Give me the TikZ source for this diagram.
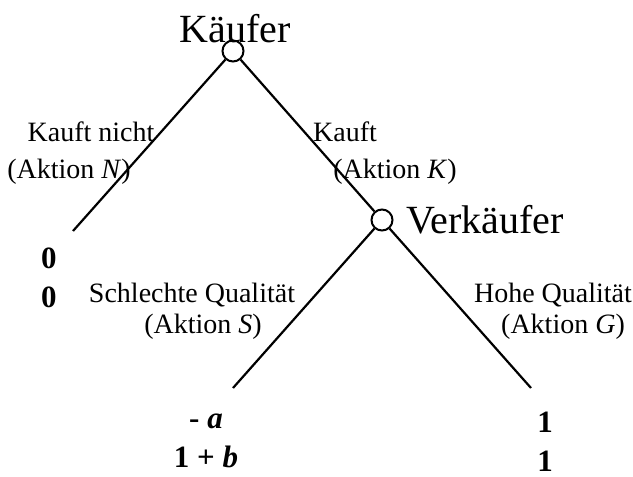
\documentclass[tikz,border=0pt]{standalone}
\usepackage{fontspec}
\setmainfont{Liberation Serif}

\tikzset{
  dec/.style={draw, circle, fill=white, minimum size=21pt, inner sep=0pt, line width=2pt},
  player/.style={inner sep=0pt, font=\fontsize{40}{44}\selectfont},
  lbl/.style={inner sep=0pt, anchor=base, font=\fontsize{28}{33}\selectfont},
  pay/.style={inner sep=0pt, anchor=base, align=center, font=\fontsize{31}{39}\selectfont\bfseries}
}

\begin{document}
\begin{tikzpicture}[x=1pt, y=-1pt, line width=2.2pt]
\useasboundingbox (0,0) rectangle (633,477);

\node[dec] (kaeufer) at (233,51) {};
\node[player, anchor=base] (kname) at (235,42) {Käufer};
\node[dec] (verkaeufer) at (382,220) {};
\node[player, anchor=base west] (vname) at (405,233) {Verkäufer};

\coordinate (endN) at (73,231);
\coordinate (endS) at (233,388);
\coordinate (endG) at (531,388);

\draw (kaeufer) -- (endN);
\draw (kaeufer) -- (verkaeufer);
\draw (verkaeufer) -- (endS);
\draw (verkaeufer) -- (endG);

% Aktionen
\node[lbl] (n1) at (91,141) {Kauft nicht};
\node[lbl] (n2) at (69,178) {(Aktion \textit{N})};
\node[lbl] (k1) at (345,141) {Kauft};
\node[lbl] (k2) at (395,178) {(Aktion \textit{K})};
\node[lbl] (s1) at (192,302) {Schlechte Qualität};
\node[lbl] (s2) at (203,333) {(Aktion \textit{S})};
\node[lbl] (g1) at (553,302) {Hohe Qualität};
\node[lbl] (g2) at (563,333) {(Aktion \textit{G})};

% Auszahlungen (base = letzte Zeile)
\node[pay] (payN) at (49,307) {0\\0};
\node[pay] (payS) at (206,467) {- \textit{a}\\1 + \textit{b}};
\node[pay] (payG) at (545,471) {1\\1};
\end{tikzpicture}
\end{document}
